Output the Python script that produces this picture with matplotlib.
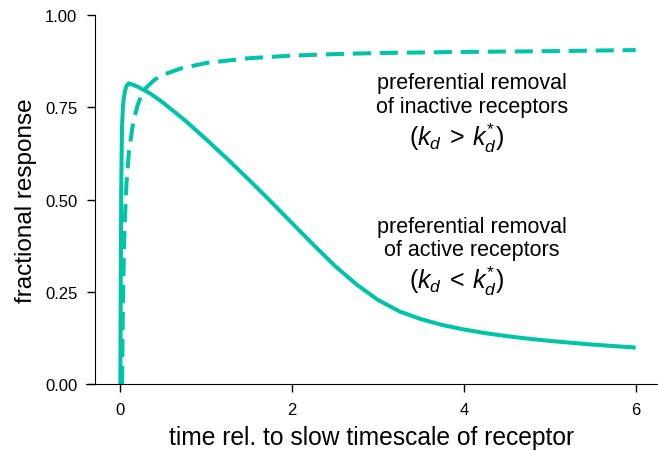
import matplotlib
matplotlib.use("Agg")
import matplotlib.pyplot as plt

# values
t_solid = [0.0, 0.005, 0.01, 0.015, 0.02, 0.03, 0.04, 0.055, 0.07, 0.085, 0.1,
           0.2, 0.35, 0.5, 0.75, 1.0, 1.25, 1.5, 1.75, 2.0, 2.25, 2.5, 2.75,
           3.0, 3.25, 3.5, 3.75, 4.0, 4.25, 4.5, 4.75, 5.0, 5.25, 5.5, 5.75, 6.0]
resp_solid = [0.0, 0.3, 0.52, 0.63, 0.7, 0.75, 0.775, 0.795, 0.806, 0.812,
              0.815, 0.806, 0.787, 0.762, 0.715, 0.663, 0.609, 0.553, 0.495,
              0.436, 0.377, 0.32, 0.27, 0.228, 0.197, 0.176, 0.16, 0.148,
              0.138, 0.13, 0.123, 0.117, 0.112, 0.107, 0.103, 0.099]

t_dashed = [0.02, 0.025, 0.03, 0.04, 0.05, 0.07, 0.1, 0.15, 0.2, 0.25, 0.3,
            0.4, 0.5, 0.7, 1.0, 1.5, 2.0, 2.5, 3.0, 4.0, 5.0, 6.0]
resp_dashed = [0.0, 0.12, 0.22, 0.34, 0.43, 0.54, 0.63, 0.71, 0.755, 0.785,
               0.803, 0.825, 0.838, 0.855, 0.870, 0.883, 0.890, 0.894, 0.897,
               0.900, 0.902, 0.905]

xticks = [0, 2, 4, 6]
yticks = [0.0, 0.25, 0.5, 0.75, 1.0]

color = "#00c4a7"

plt.rcParams["font.family"] = ["Liberation Sans", "DejaVu Sans"]
plt.rcParams["mathtext.fontset"] = "custom"
plt.rcParams["mathtext.it"] = "Liberation Sans:italic"
plt.rcParams["mathtext.rm"] = "Liberation Sans"


def main():
    fig = plt.figure(figsize=(6.58, 4.52), dpi=100)
    ax = fig.add_axes([0.1307, 0.148, 0.8693, 0.8166])

    ax.plot(t_solid, resp_solid, color=color, lw=2.9, solid_capstyle="butt")
    ax.plot(t_dashed, resp_dashed, color=color, lw=2.9, dashes=(4.5, 2.2))

    ax.set_xlim(-0.4, 6.26)
    ax.set_ylim(0, 1)
    ax.set_xticks(xticks)
    ax.set_yticks(yticks)
    ax.set_yticklabels(["%.2f" % v for v in yticks])

    ax.spines["top"].set_visible(False)
    ax.spines["right"].set_visible(False)
    ax.spines["left"].set_position(("data", -0.29))
    ax.tick_params(labelsize=12, length=6, width=1, pad=7)

    ax.set_xlabel("time rel. to slow timescale of receptor", fontsize=17.7, labelpad=6)
    ax.set_ylabel("fractional response", fontsize=17.5, labelpad=6)

    # annotations, one line each
    kw = dict(ha="center", va="center", fontsize=15.5)
    kw_math = dict(ha="center", va="center", fontsize=18)
    ax.text(4.09, 0.816, "preferential removal", **kw)
    ax.text(4.09, 0.753, "of inactive receptors", **kw)
    ax.text(3.91, 0.669, r"$(k_d\:>\:k_d^{*})$", **kw_math)
    ax.text(4.09, 0.428, "preferential removal", **kw)
    ax.text(4.09, 0.366, "of active receptors", **kw)
    ax.text(3.91, 0.282, r"$(k_d\:<\:k_d^{*})$", **kw_math)

    fig.savefig("out.png", dpi=100)


if __name__ == "__main__":
    main()
